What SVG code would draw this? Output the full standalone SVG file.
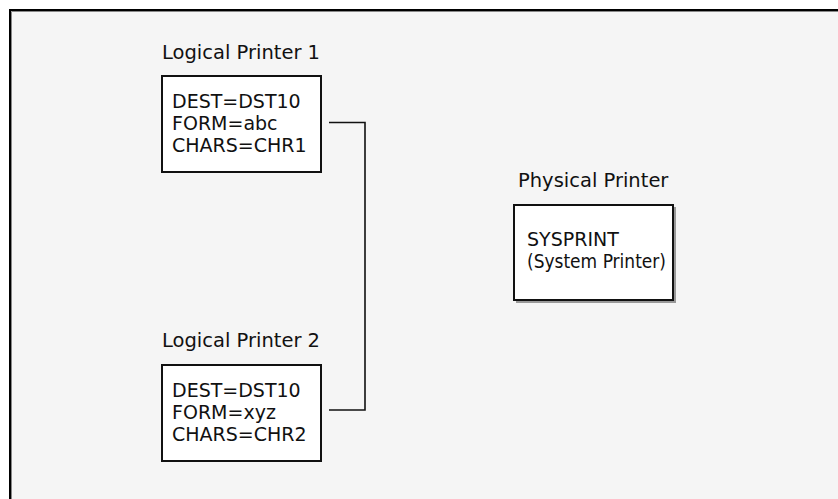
<svg xmlns="http://www.w3.org/2000/svg" width="838" height="499" viewBox="0 0 838 499">
  <style>
    .title { font-family: "DejaVu Sans", "Liberation Sans", sans-serif; font-size: 19.5px; fill: #111; }
    .body { font-family: "DejaVu Sans", "Liberation Sans", sans-serif; font-size: 19px; fill: #111; }
    .box { fill: #ffffff; stroke: #111; stroke-width: 2; }
    .wire { fill: none; stroke: #111; stroke-width: 1.6; }
  </style>

  <!-- page and frame -->
  <rect x="0" y="0" width="838" height="499" fill="#ffffff"/>
  <rect x="10" y="10" width="840" height="500" fill="#f5f5f5"/>
  <path d="M10 511 V10 H850" fill="none" stroke="#000" stroke-width="2"/>
  <path d="M11.5 511 V11.5 H850" fill="none" stroke="#888" stroke-width="1"/>

  <!-- connectors -->
  <g id="connectors">
    <path class="wire" d="M329 122.5 H365 V410 H329"/>
  </g>

  <g id="logical-printer-1">
    <text class="title" x="162" y="59">Logical Printer 1</text>
    <rect class="box" x="162" y="76" width="159" height="96"/>
    <text class="body" x="172" y="108">DEST=DST10</text>
    <text class="body" x="172" y="130">FORM=abc</text>
    <text class="body" x="172" y="152">CHARS=CHR1</text>
  </g>

  <g id="logical-printer-2">
    <text class="title" x="162" y="347">Logical Printer 2</text>
    <rect class="box" x="162" y="365" width="159" height="96"/>
    <text class="body" x="172" y="397">DEST=DST10</text>
    <text class="body" x="172" y="419">FORM=xyz</text>
    <text class="body" x="172" y="441">CHARS=CHR2</text>
  </g>

  <g id="physical-printer">
    <text class="title" x="518" y="187">Physical Printer</text>
    <rect x="516" y="207" width="160" height="96" fill="#999"/>
    <rect class="box" x="514" y="205" width="159" height="95"/>
    <text class="body" x="527" y="246">SYSPRINT</text>
    <text class="body" x="527" y="268" textLength="139" lengthAdjust="spacingAndGlyphs">(System Printer)</text>
  </g>
</svg>
